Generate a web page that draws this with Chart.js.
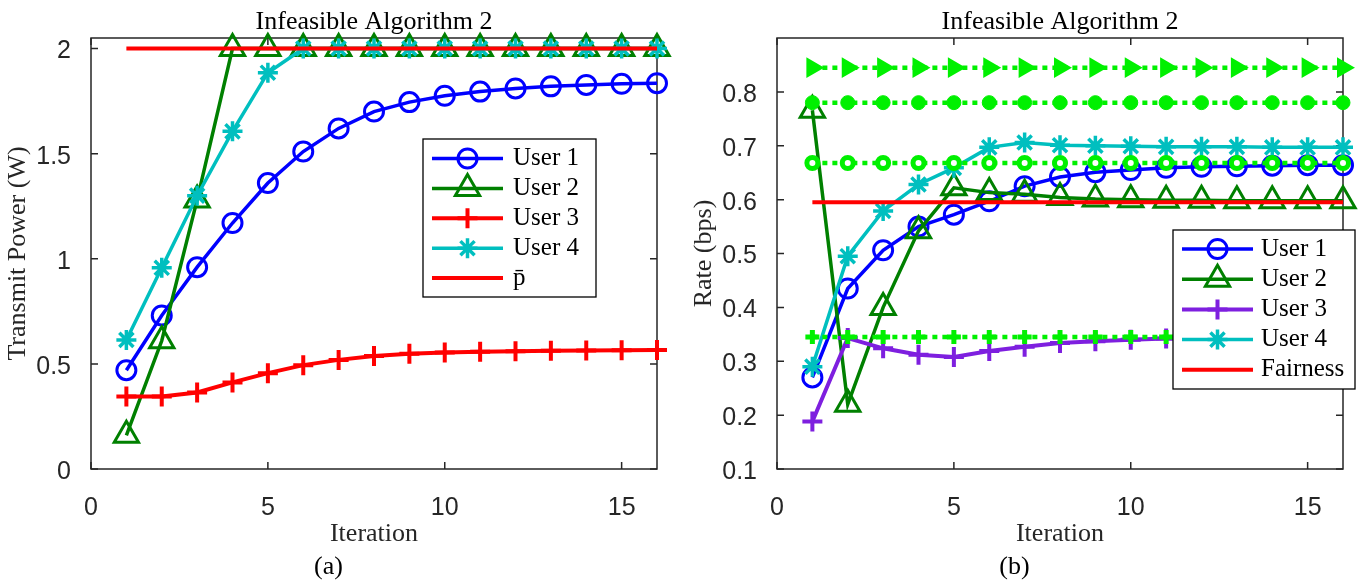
<!DOCTYPE html>
<html>
<head>
<meta charset="utf-8">
<script src="https://cdn.jsdelivr.net/npm/chart.js@4.4.1/dist/chart.umd.min.js"></script>
<style>
  body { margin: 0; background: #fff; width: 1372px; height: 581px; overflow: hidden; display: flex; }
  canvas { display: block; }
</style>
</head>
<body>
<canvas id="powerChart" width="686" height="581"></canvas>
<canvas id="rateChart" width="686" height="581"></canvas>
<script>
const iterations = [1, 2, 3, 4, 5, 6, 7, 8, 9, 10, 11, 12, 13, 14, 15, 16];
const xTickValues = [0, 5, 10, 15];
const powerTickValues = [0, 0.5, 1, 1.5, 2];
const rateTickValues = [0.1, 0.2, 0.3, 0.4, 0.5, 0.6, 0.7, 0.8];

// (a) transmit power
const powerUser1 = [0.47, 0.73, 0.96, 1.17, 1.36, 1.51, 1.62, 1.70, 1.745, 1.775, 1.795, 1.81, 1.82, 1.827, 1.832, 1.835];
const powerUser2 = [0.16, 0.61, 1.28, 2, 2, 2, 2, 2, 2, 2, 2, 2, 2, 2, 2, 2];
const powerUser3 = [0.345, 0.345, 0.364, 0.412, 0.456, 0.494, 0.519, 0.537, 0.548, 0.554, 0.558, 0.56, 0.562, 0.564, 0.565, 0.566];
const powerUser4 = [0.614, 0.957, 1.30, 1.606, 1.885, 2, 2, 2, 2, 2, 2, 2, 2, 2, 2, 2];
const powerMax = [2, 2, 2, 2, 2, 2, 2, 2, 2, 2, 2, 2, 2, 2, 2, 2];

// (b) rate
const rateUser1 = [0.27, 0.435, 0.506, 0.55, 0.572, 0.597, 0.625, 0.642, 0.651, 0.655, 0.659, 0.661, 0.662, 0.663, 0.664, 0.664];
const rateUser2 = [0.766, 0.22, 0.40, 0.542, 0.622, 0.613, 0.61, 0.604, 0.601, 0.6, 0.599, 0.599, 0.598, 0.598, 0.598, 0.598];
const rateUser3 = [0.188, 0.343, 0.324, 0.312, 0.308, 0.319, 0.327, 0.334, 0.337, 0.34, 0.342, 0.343, 0.344, 0.344, 0.345, 0.345];
const rateUser4 = [0.29, 0.495, 0.579, 0.628, 0.659, 0.697, 0.706, 0.701, 0.70, 0.699, 0.698, 0.698, 0.698, 0.697, 0.697, 0.697];
const fairness = [0.595, 0.595, 0.595, 0.595, 0.595, 0.595, 0.595, 0.595, 0.595, 0.595, 0.595, 0.595, 0.595, 0.595, 0.595, 0.595];
const rateRefA = [0.845, 0.845, 0.845, 0.845, 0.845, 0.845, 0.845, 0.845, 0.845, 0.845, 0.845, 0.845, 0.845, 0.845, 0.845, 0.845];
const rateRefB = [0.78, 0.78, 0.78, 0.78, 0.78, 0.78, 0.78, 0.78, 0.78, 0.78, 0.78, 0.78, 0.78, 0.78, 0.78, 0.78];
const rateRefC = [0.668, 0.668, 0.668, 0.668, 0.668, 0.668, 0.668, 0.668, 0.668, 0.668, 0.668, 0.668, 0.668, 0.668, 0.668, 0.668];
const rateRefD = [0.345, 0.345, 0.345, 0.345, 0.345, 0.345, 0.345, 0.345, 0.345, 0.345, 0.345, 0.345, 0.345, 0.345, 0.345, 0.345];

const serif = "'Liberation Serif', 'Times New Roman', serif";
const sans = "'Liberation Sans', Arial, Helvetica, sans-serif";
const AXIS = "#262626";
const NONE = "rgba(0,0,0,0)";

const toPoints = (values) => values.map((v, i) => ({ x: iterations[i], y: v }));

function series(label, values, color, style, radius, lineW, pointW, order, extra) {
  return Object.assign({
    label: label,
    data: toPoints(values),
    borderColor: color,
    backgroundColor: color,
    borderWidth: lineW,
    pointStyle: style,
    pointRadius: radius,
    pointBorderWidth: pointW,
    pointBorderColor: color,
    pointBackgroundColor: NONE,
    pointRotation: 0,
    inLegend: true,
    clip: false,
    order: order,
  }, extra || {});
}

// box with inward ticks on all four sides, like the original figure
const framePlugin = {
  id: "frame",
  beforeDatasetsDraw(chart) {
    const { ctx, chartArea: a, scales } = chart;
    ctx.save();
    ctx.strokeStyle = AXIS;
    ctx.lineWidth = 1.5;
    ctx.strokeRect(a.left, a.top, a.right - a.left, a.bottom - a.top);
    ctx.beginPath();
    scales.x.ticks.forEach((t) => {
      const px = scales.x.getPixelForValue(t.value);
      ctx.moveTo(px, a.bottom); ctx.lineTo(px, a.bottom - 7);
      ctx.moveTo(px, a.top); ctx.lineTo(px, a.top + 7);
    });
    scales.y.ticks.forEach((t) => {
      const py = scales.y.getPixelForValue(t.value);
      ctx.moveTo(a.left, py); ctx.lineTo(a.left + 7, py);
      ctx.moveTo(a.right, py); ctx.lineTo(a.right - 7, py);
    });
    ctx.stroke();
    ctx.restore();
  },
};

const boxLegendPlugin = {
  id: "boxLegend",
  afterDatasetsDraw(chart, args, opts) {
    const ctx = chart.ctx;
    ctx.save();
    ctx.fillStyle = "#fff";
    ctx.fillRect(opts.left, opts.top, opts.width, opts.height);
    ctx.strokeStyle = "#000";
    ctx.lineWidth = 1.3;
    ctx.strokeRect(opts.left, opts.top, opts.width, opts.height);
    const items = chart.data.datasets.filter((d) => d.inLegend);
    items.forEach((ds, i) => {
      const y = opts.top + opts.firstRow + i * opts.rowGap;
      ctx.setLineDash([]);
      ctx.strokeStyle = ds.borderColor;
      ctx.lineWidth = ds.borderWidth;
      ctx.beginPath();
      ctx.moveTo(opts.left + opts.lineStart, y);
      ctx.lineTo(opts.left + opts.lineEnd, y);
      ctx.stroke();
      if (ds.pointRadius > 0) {
        ctx.fillStyle = ds.pointBackgroundColor;
        ctx.strokeStyle = ds.pointBorderColor;
        ctx.lineWidth = ds.pointBorderWidth;
        Chart.helpers.drawPoint(ctx, {
          pointStyle: ds.pointStyle,
          radius: ds.pointRadius,
          rotation: ds.pointRotation,
          borderWidth: ds.pointBorderWidth,
        }, opts.left + (opts.lineStart + opts.lineEnd) / 2, y);
      }
      ctx.fillStyle = "#000";
      ctx.font = "25px " + serif;
      ctx.textBaseline = "middle";
      ctx.textAlign = "left";
      ctx.fillText(ds.label, opts.left + opts.textX, y);
    });
    ctx.restore();
  },
};

function makeOptions(yTicks, yMin, yMax, yTitle, caption, legendBox) {
  return {
    responsive: false,
    animation: false,
    devicePixelRatio: 1,
    layout: { padding: { left: 0, right: 29, top: 0, bottom: 0 } },
    plugins: {
      legend: { display: false },
      tooltip: { enabled: false },
      title: {
        display: true,
        fullSize: false,
        text: "Infeasible Algorithm 2",
        color: "#000",
        font: { family: serif, size: 26, weight: "normal", lineHeight: 1.2 },
        padding: { top: 6.6, bottom: 0.2 },
      },
      subtitle: {
        display: true,
        position: "bottom",
        text: caption,
        color: "#000",
        font: { family: serif, size: 26, weight: "normal", lineHeight: 1.2 },
        padding: { top: 0, bottom: -2 },
      },
      boxLegend: legendBox,
    },
    scales: {
      x: {
        type: "linear",
        min: 0,
        max: 16,
        afterBuildTicks: (scale) => { scale.ticks = xTickValues.map((v) => ({ value: v })); },
        afterFit: (scale) => { scale.height = 82.8; },
        grid: { display: false },
        border: { display: false },
        ticks: {
          autoSkip: false, maxRotation: 0, padding: 16, color: AXIS,
          font: { family: sans, size: 25 },
          callback: (v) => String(v),
        },
        title: {
          display: true, text: "Iteration", color: AXIS,
          font: { family: serif, size: 26, lineHeight: 1.2 },
          padding: { top: 0, bottom: 2 },
        },
      },
      y: {
        type: "linear",
        min: yMin,
        max: yMax,
        afterBuildTicks: (scale) => { scale.ticks = yTicks.map((v) => ({ value: v })); },
        afterFit: (scale) => { scale.width = 91; },
        grid: { display: false },
        border: { display: false },
        ticks: {
          autoSkip: false, padding: 12, labelOffset: 3, color: AXIS,
          font: { family: sans, size: 25 },
          callback: (v) => String(v),
        },
        title: {
          display: true, text: yTitle, color: AXIS,
          font: { family: serif, size: 26, lineHeight: 1.2 },
          padding: { top: 2.5, bottom: 0 },
        },
      },
    },
  };
}

const BLUE = "#0000ff";
const DARKGREEN = "#008000";
const RED = "#ff0000";
const CYAN = "#00bfbf";
const PURPLE = "#7e1fdf";
const LIME = "#00f000";

new Chart(document.getElementById("powerChart").getContext("2d"), {
  type: "line",
  data: {
    datasets: [
      series("User 1", powerUser1, BLUE, "circle", 9.5, 3.5, 3, 5),
      series("User 2", powerUser2, DARKGREEN, "triangle", 14, 3.5, 3, 4),
      series("User 3", powerUser3, RED, "cross", 10, 4, 4, 3),
      series("User 4", powerUser4, CYAN, "star", 10, 3.5, 3.5, 2),
      series("p\u0304", powerMax, RED, "circle", 0, 4, 0, 1),
    ],
  },
  options: makeOptions(powerTickValues, 0, 2.05, "Transmit Power (W)", "(a)", {
    left: 423, top: 139, width: 173, height: 158,
    firstRow: 19.5, rowGap: 29.9, lineStart: 9, lineEnd: 80, textX: 90,
  }),
  plugins: [framePlugin, boxLegendPlugin],
});

const dotted = { borderDash: [5, 5], inLegend: false };

new Chart(document.getElementById("rateChart").getContext("2d"), {
  type: "line",
  data: {
    datasets: [
      series("User 1", rateUser1, BLUE, "circle", 9.5, 3.5, 3, 9),
      series("User 2", rateUser2, DARKGREEN, "triangle", 14, 3.5, 3, 8),
      series("User 3", rateUser3, PURPLE, "cross", 10, 4, 4, 7),
      series("User 4", rateUser4, CYAN, "star", 10, 3.5, 3.5, 6),
      series("Fairness", fairness, RED, "circle", 0, 4, 0, 1),
      series("", rateRefA, LIME, "triangle", 10, 4.5, 2, 5, Object.assign({ pointRotation: 90, pointBackgroundColor: LIME }, dotted)),
      series("", rateRefB, LIME, "circle", 7, 4.5, 1, 4, Object.assign({ pointBackgroundColor: LIME }, dotted)),
      series("", rateRefC, LIME, "circle", 5.5, 4.5, 5, 3, Object.assign({ pointBackgroundColor: "#fff" }, dotted)),
      series("", rateRefD, LIME, "cross", 7, 4.5, 5, 2, dotted),
    ],
  },
  options: makeOptions(rateTickValues, 0.1, 0.9, "Rate (bps)", "(b)", {
    left: 487, top: 230, width: 182, height: 159,
    firstRow: 19, rowGap: 30.2, lineStart: 9, lineEnd: 80, textX: 88,
  }),
  plugins: [framePlugin, boxLegendPlugin],
});
</script>
</body>
</html>
